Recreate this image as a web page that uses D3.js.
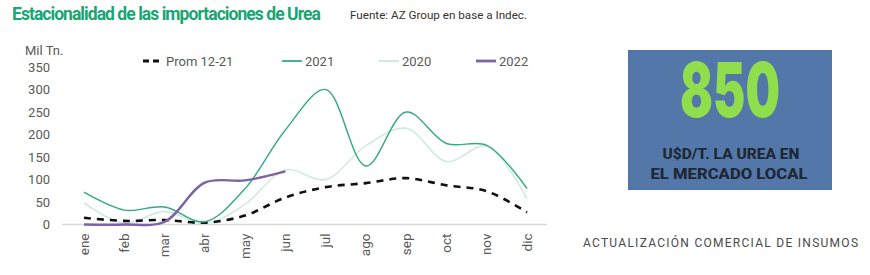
<!DOCTYPE html>
<html>
<head>
<meta charset="utf-8">
<script src="https://cdn.jsdelivr.net/npm/d3@7"></script>
<style>
  body { margin: 0; background: #fff; }
  svg { display: block; font-family: Roboto, "Noto Sans", sans-serif; }
</style>
</head>
<body>
<svg id="chart" width="870" height="275"></svg>
<script>
const months = ['ene','feb','mar','abr','may','jun','jul','ago','sep','oct','nov','dic']
const prom = [15, 8, 10, 4, 20, 60, 83, 92, 103, 87, 74, 27]
const y2021 = [72, 32, 39, 6, 80, 210, 300, 130, 250, 180, 176, 80]
const y2020 = [48, 3, 29, 2, 45, 121, 100, 175, 214, 140, 174, 57]
const y2022 = [0, 0, 6, 93, 98, 118]
const yTicks = [0, 50, 100, 150, 200, 250, 300, 350]

const series = [
  { name: 'Prom 12-21', values: prom, color: '#111', width: 2.6, dash: '7,6', lx: 143 },
  { name: '2021', values: y2021, color: '#34a888', width: 1.4, dash: null, lx: 282 },
  { name: '2020', values: y2020, color: '#cbe8dc', width: 1.4, dash: null, lx: 379 },
  { name: '2022', values: y2022, color: '#7d62a6', width: 2.4, dash: null, lx: 476 }
]

const svg = d3.select('#chart')

// title
svg.append('text').attr('x', 12).attr('y', 20)
  .attr('font-size', 17.5).attr('font-weight', 700).attr('fill', '#17a673')
  .attr('letter-spacing', -0.95)
  .text('Estacionalidad de las importaciones de Urea')
svg.append('text').attr('x', 350).attr('y', 19)
  .attr('font-size', 10.5).attr('fill', '#333')
  .attr('textLength', 177).attr('lengthAdjust', 'spacingAndGlyphs')
  .text('Fuente: AZ Group en base a Indec.')

const x = d3.scalePoint().domain(months).range([84, 527])
const y = d3.scaleLinear().domain([0, 350]).range([224.5, 67])

svg.append('text').attr('x', 25).attr('y', 55)
  .attr('font-size', 13).attr('fill', '#595959').text('Mil Tn.')

// y tick labels (no axis line)
const yAxis = svg.append('g').attr('transform', 'translate(55,0)')
  .call(d3.axisLeft(y).tickValues(yTicks).tickSize(0).tickPadding(5))
yAxis.select('.domain').remove()
yAxis.selectAll('text').attr('font-size', 13).attr('fill', '#595959')
  .attr('font-family', 'Roboto, sans-serif')

// x axis
const xAxis = svg.append('g').attr('transform', 'translate(0,' + y(0) + ')')
  .call(d3.axisBottom(x).tickSize(0).tickPadding(0))
xAxis.select('.domain').attr('d', 'M62,0H547').attr('stroke', '#d9d9d9').attr('stroke-width', 1.3)
xAxis.selectAll('text')
  .attr('font-size', 13.5).attr('fill', '#595959').attr('font-family', 'Roboto, sans-serif')
  .attr('text-anchor', 'end').attr('dy', null)
  .attr('transform', 'translate(4,9) rotate(-90)')

const line = d3.line()
  .x((d, i) => x(months[i]))
  .y(d => y(d))
  .curve(d3.curveCatmullRom.alpha(0.5))

const drawOrder = [series[2], series[0], series[1], series[3]]
drawOrder.forEach(function(s) {
  svg.append('path').datum(s.values)
    .attr('d', line)
    .attr('fill', 'none')
    .attr('stroke', s.color)
    .attr('stroke-width', s.width)
    .attr('stroke-dasharray', s.dash)
})

// legend
series.forEach(function(s) {
  svg.append('line').attr('x1', s.lx).attr('x2', s.lx + 20).attr('y1', 61).attr('y2', 61)
    .attr('stroke', s.color).attr('stroke-width', s.width + 0.4)
    .attr('stroke-dasharray', s.dash ? '6,4' : null)
  svg.append('text').attr('x', s.lx + 23).attr('y', 65.5)
    .attr('font-size', 13).attr('fill', '#595959').text(s.name)
})

// price box
svg.append('rect').attr('x', 628).attr('y', 50).attr('width', 204).attr('height', 140)
  .attr('fill', '#5277a8')
svg.append('text').attr('x', 730).attr('y', 117).attr('text-anchor', 'middle')
  .attr('font-size', 76).attr('font-weight', 900).attr('fill', '#91de4c')
  .attr('font-family', 'Inter, Roboto, sans-serif')
  .attr('textLength', 100).attr('lengthAdjust', 'spacingAndGlyphs')
  .text('850')
svg.append('text').attr('x', 731).attr('y', 159).attr('text-anchor', 'middle')
  .attr('font-size', 15.5).attr('font-weight', 800).attr('fill', '#1e2733')
  .attr('textLength', 137).attr('lengthAdjust', 'spacingAndGlyphs')
  .text('U$D/T. LA UREA EN')
svg.append('text').attr('x', 729).attr('y', 179).attr('text-anchor', 'middle')
  .attr('font-size', 15.5).attr('font-weight', 800).attr('fill', '#1e2733')
  .attr('textLength', 157).attr('lengthAdjust', 'spacingAndGlyphs')
  .text('EL MERCADO LOCAL')

svg.append('text').attr('x', 583).attr('y', 247)
  .attr('font-size', 12).attr('fill', '#4a4a4a')
  .attr('textLength', 275).attr('lengthAdjust', 'spacing')
  .text('ACTUALIZACIÓN COMERCIAL DE INSUMOS')
</script>
</body>
</html>
